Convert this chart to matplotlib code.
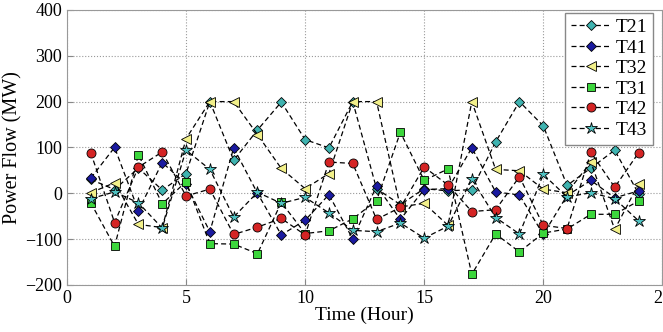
import numpy as np
import matplotlib
matplotlib.use('Agg')
import matplotlib.pyplot as plt

hours = list(range(1, 25))

t21 = [30, 8, 55, 7, 43, 200, 72, 138, 199, 117, 99, 200,
       10, -25, 10, 5, 8, 112, 200, 147, 17, 55, 94, -1]
t41 = [33, 100, -38, 67, 20, -84, 99, 0, -91, -59, -3, -100,
       16, -57, 8, 10, 99, 3, -4, -90, -5, 28, -10, 5]
t32 = [1, 23, -68, -75, 119, 200, 200, 128, 54, 10, 43, 200,
       200, -30, -22, -70, 200, 52, 49, 9, 1, 68, -79, 20]
t31 = [-21, -116, 84, -23, 25, -110, -111, -132, -20, -88, -82, -56,
       -16, 133, 28, 53, -177, -89, -128, -87, -78, -46, -46, -17]
t42 = [88, -64, 57, 90, -6, 9, -90, -74, -55, -91, 68, 65,
       -57, -31, 57, 18, -40, -36, 36, -70, -77, 89, 13, 88]
t43 = [-12, 3, -21, -76, 94, 52, -52, 2, -22, -9, -43, -81,
       -84, -65, -98, -72, 31, -53, -89, 41, -8, 1, -12, -60]

series = [
    ('T21', t21, 'D', '#3fb3b0', 5),
    ('T41', t41, 'D', '#1a1aa0', 5),
    ('T32', t32, '<', '#f2f08a', 6.5),
    ('T31', t31, 's', '#3cd63c', 5.5),
    ('T42', t42, 'o', '#d42424', 6.5),
    ('T43', t43, '*', '#4fc2c2', 9),
]

plt.rcParams['font.family'] = 'Liberation Serif'

fig = plt.figure(figsize=(6.63, 3.32), dpi=100)
ax = fig.add_axes([0.101, 0.142, 0.898, 0.828])

for name, vals, mk, col, ms in series:
    ax.plot(hours, vals, linestyle=(0, (4, 2.5)), color='black', linewidth=0.9,
            marker=mk, markersize=ms, markerfacecolor=col,
            markeredgecolor='black', markeredgewidth=0.6, label=name)

ax.set_xlim(0, 25)
ax.set_ylim(-200, 400)
ax.set_xticks([0, 5, 10, 15, 20, 25])
ax.set_yticks([-200, -100, 0, 100, 200, 300, 400])
ax.grid(True, linestyle=':', color='#999999', linewidth=0.8)
ax.tick_params(direction='in', labelsize=13, length=4, colors='#888888',
               labelcolor='black')
for s in ax.spines.values():
    s.set_color('#999999')

ax.set_xlabel('Time (Hour)', fontsize=14, labelpad=0)
ax.set_ylabel('Power Flow (MW)', fontsize=14.5, labelpad=2)

leg = ax.legend(loc='upper right', fontsize=14, handlelength=2.0,
                handletextpad=0.3, labelspacing=0.15, borderpad=0.3,
                fancybox=False, framealpha=1, borderaxespad=0,
                bbox_to_anchor=(0.985, 0.99))
leg.get_frame().set_edgecolor('#888888')

fig.savefig('out.png', dpi=100)
